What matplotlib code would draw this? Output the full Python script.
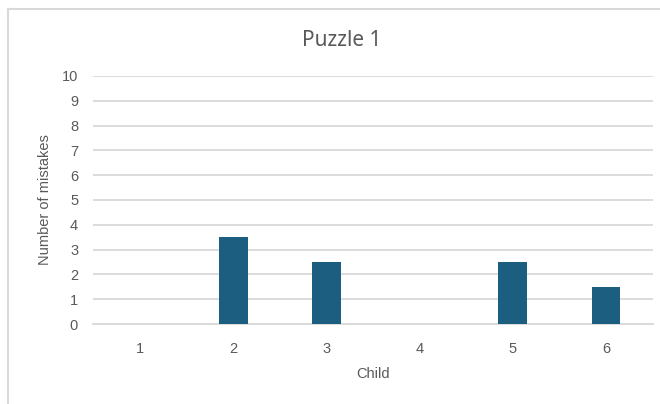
import matplotlib.pyplot as plt
from matplotlib.lines import Line2D

# Mistakes per child on the first puzzle
children = ["1", "2", "3", "4", "5", "6"]
mistakes = [0, 3.5, 2.5, 0, 2.5, 1.5]

BAR_COLOR = "#1b5e7f"
GRID_COLOR = "#d9d9d9"
TEXT_COLOR = "#595959"

plt.rcParams["font.family"] = ["Liberation Sans", "DejaVu Sans"]

fig = plt.figure(figsize=(6.6, 4.04), dpi=100)
ax = fig.add_axes([0.1415, 0.198, 0.8473, 0.614])

x = range(len(children))
ax.bar(x, mistakes, width=0.31, color=BAR_COLOR, zorder=3)

ax.set_xlim(-0.5, len(children) - 0.5)
ax.set_ylim(0, 10)
ax.set_yticks(range(0, 11))
ax.set_xticks(list(x))
ax.set_xticklabels(children)
ax.yaxis.grid(True, color=GRID_COLOR, linewidth=1.3, zorder=0)
ax.set_axisbelow(True)
for side in ["top", "right", "left"]:
    ax.spines[side].set_visible(False)
ax.spines["bottom"].set_color(GRID_COLOR)
ax.spines["bottom"].set_linewidth(1.3)
ax.tick_params(axis="both", length=0, colors=TEXT_COLOR, labelsize=10.5)
ax.tick_params(axis="x", pad=13)
ax.tick_params(axis="y", pad=11)

ax.set_xlabel("Child", color=TEXT_COLOR, fontsize=10.5, labelpad=8)
ax.set_ylabel("Number of mistakes", color=TEXT_COLOR, fontsize=10.5, labelpad=7)
fig.text(0.518, 0.9, "Puzzle 1", ha="center", va="center",
         color=TEXT_COLOR, fontsize=15, family=["Noto Sans", "DejaVu Sans"])

# chart frame
fig.add_artist(Line2D([8 / 660, 1.0], [1 - 9 / 404, 1 - 9 / 404],
                      transform=fig.transFigure, color=GRID_COLOR, linewidth=1.5))
fig.add_artist(Line2D([8 / 660, 8 / 660], [0, 1 - 9 / 404],
                      transform=fig.transFigure, color=GRID_COLOR, linewidth=1.5))

fig.savefig("out.png", dpi=100)
